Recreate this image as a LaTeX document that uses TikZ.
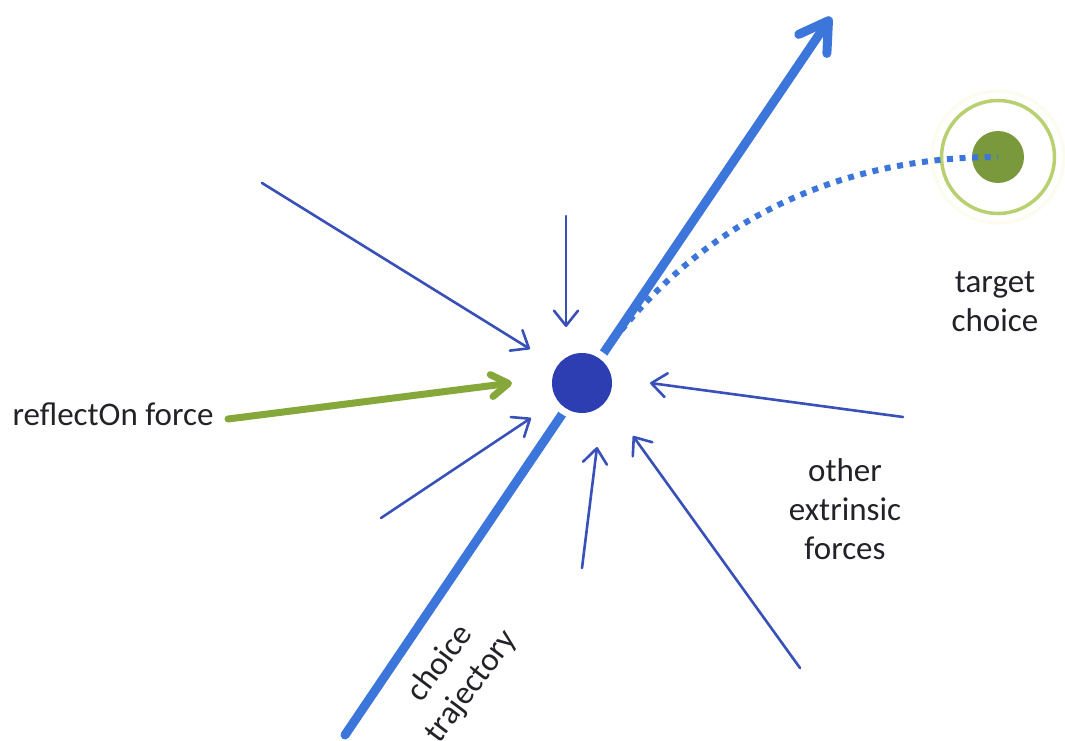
\documentclass[tikz,border=0pt]{standalone}
\usepackage{fontspec}
\setmainfont{Carlito}
\usetikzlibrary{arrows.meta}

\definecolor{trajblue}{RGB}{60,118,218}
\definecolor{coreblue}{RGB}{44,62,178}
\definecolor{forceblue}{RGB}{56,80,184}
\definecolor{reflgreen}{RGB}{134,168,58}
\definecolor{goalgreen}{RGB}{122,152,60}
\definecolor{ringgreen}{RGB}{184,208,112}
\definecolor{halo}{RGB}{252,252,238}
\definecolor{txt}{RGB}{34,34,40}

\tikzset{
  force/.style={draw=forceblue, line width=2.6pt, line cap=round, line join=round,
    -{Straight Barb[length=15pt,width=24pt,line cap=round,line join=round]}},
  reflforce/.style={draw=reflgreen, line width=7pt, line cap=round, line join=round,
    -{Straight Barb[length=17pt,width=22pt,line cap=round,line join=round]}},
  traj/.style={draw=trajblue, line width=9pt, line cap=round, line join=round,
    -{Straight Barb[length=28pt,width=34pt,line cap=round,line join=round]}},
  pathdots/.style={draw=trajblue, line width=6pt, dash pattern=on 6pt off 6.6pt},
  label/.style={text=txt, font=\fontsize{33}{39}\selectfont, align=center, inner sep=0pt}
}

\begin{document}
\begin{tikzpicture}[x=1pt,y=-1pt]
  \useasboundingbox[fill=white] (0,0) rectangle (1065,741);

  % choice trajectory
  \coordinate (trajStart) at (345,735);
  \coordinate (trajEnd) at (831,17);
  \draw[traj] (trajStart) -- (trajEnd);

  % current choice, set off from the trajectory by a white rim
  \fill[white] (582,383) circle[radius=37];
  \node[circle, fill=coreblue, minimum size=60pt, inner sep=0pt, outer sep=0pt] (core) at (582,383) {};

  % target choice
  \draw[halo, line width=3pt] (998,157) circle[radius=66];
  \node[circle, draw=ringgreen, line width=3.5pt, minimum size=113pt, inner sep=0pt] (ring) at (998,157) {};
  \node[circle, fill=goalgreen, minimum size=52pt, inner sep=0pt] (goal) at (998,157) {};

  % path toward the target
  \coordinate (branch) at (606,350);
  \draw[pathdots] (branch) .. controls (690,236) and (820,157) .. (goal.center);

  % extrinsic forces
  \coordinate (f1s) at (262,183);  \coordinate (f1t) at (530,349);
  \coordinate (f2s) at (566,216);  \coordinate (f2t) at (566,327);
  \coordinate (f4s) at (381,518);  \coordinate (f4t) at (531,418);
  \coordinate (f5s) at (582,568);  \coordinate (f5t) at (597,447);
  \coordinate (f6s) at (800,668);  \coordinate (f6t) at (633,436);
  \coordinate (f7s) at (903,417);  \coordinate (f7t) at (650,383);
  \draw[force] (f1s) -- (f1t);
  \draw[force] (f2s) -- (f2t);
  \draw[force] (f4s) -- (f4t);
  \draw[force] (f5s) -- (f5t);
  \draw[force] (f6s) -- (f6t);
  \draw[force] (f7s) -- (f7t);

  % reflectOn force
  \coordinate (rs) at (228,419);
  \coordinate (rt) at (512,383);
  \draw[reflforce] (rs) -- (rt);

  % labels
  \node[label] (lrefl) at (113,414) {reflectOn force};
  \node[label] (ltarget) at (995,302) {target\\choice};
  \node[label] (lother) at (845,509) {other\\extrinsic\\forces};
  \node[label, rotate=53] (ltraj) at (456,675) {choice\\trajectory};
\end{tikzpicture}
\end{document}
